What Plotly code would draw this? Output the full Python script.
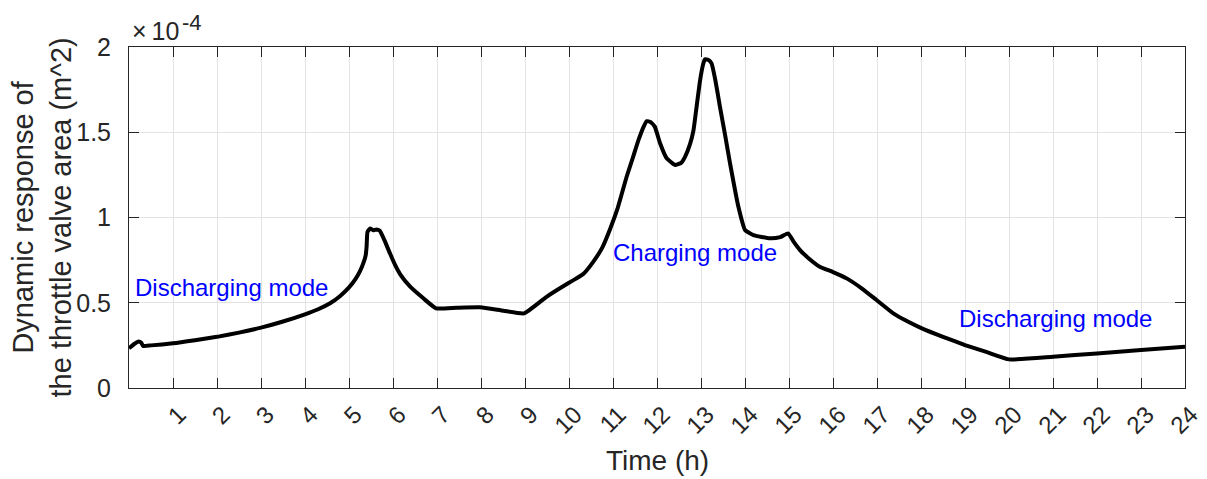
import plotly.graph_objects as go

# Time of day (h) and throttle valve area in units of 1e-4 m^2
hours = [0.00, 0.12, 0.22, 0.28, 0.32, 0.50, 1.00, 1.50, 2.00, 2.50, 3.00, 3.50,
         4.00, 4.30, 4.57, 4.80, 5.00, 5.15, 5.25, 5.33, 5.38, 5.40, 5.42, 5.48,
         5.55, 5.62, 5.70, 5.80, 5.93, 6.05, 6.16, 6.39, 6.69, 6.98, 7.45, 7.98,
         8.51, 8.98, 9.49, 9.98, 10.15, 10.33, 10.55, 10.75, 10.93, 11.10, 11.31,
         11.45, 11.58, 11.70, 11.77, 11.85, 11.95, 12.07, 12.22, 12.41, 12.55,
         12.64, 12.75, 12.83, 12.90, 12.98, 13.05, 13.09, 13.16, 13.24, 13.33,
         13.43, 13.55, 13.66, 13.85, 14.00, 14.19, 14.57, 14.80, 14.98, 15.10,
         15.25, 15.45, 15.70, 16.00, 16.31, 16.65, 16.99, 17.37, 17.70, 18.02,
         18.50, 19.00, 19.50, 20.00, 21.00, 22.00, 23.00, 24.00]
area_e4 = [0.233, 0.258, 0.272, 0.265, 0.247, 0.250, 0.262, 0.280, 0.300, 0.325,
           0.354, 0.390, 0.432, 0.462, 0.497, 0.540, 0.590, 0.640, 0.685, 0.735,
           0.780, 0.830, 0.915, 0.936, 0.925, 0.930, 0.922, 0.870, 0.790, 0.720,
           0.668, 0.594, 0.526, 0.467, 0.471, 0.473, 0.453, 0.438, 0.535, 0.614,
           0.640, 0.670, 0.740, 0.820, 0.930, 1.050, 1.239, 1.350, 1.455, 1.535,
           1.565, 1.560, 1.533, 1.435, 1.347, 1.308, 1.320, 1.357, 1.430, 1.513,
           1.650, 1.806, 1.900, 1.928, 1.925, 1.904, 1.800, 1.650, 1.480, 1.318,
           1.063, 0.927, 0.897, 0.878, 0.885, 0.907, 0.860, 0.809, 0.760, 0.711,
           0.680, 0.643, 0.585, 0.516, 0.438, 0.390, 0.350, 0.300, 0.252, 0.210,
           0.168, 0.184, 0.203, 0.223, 0.242]

hour_ticks = list(range(1, 25))
hour_labels = [str(h) for h in hour_ticks]
area_ticks = [0, 0.5, 1, 1.5, 2]
area_labels = ["0", "0.5", "1", "1.5", "2"]

# Operating-mode labels: (hour, area, text)
mode_labels = [
    (0.09, 0.587, "Discharging mode"),
    (10.95, 0.792, "Charging mode"),
    (18.82, 0.410, "Discharging mode"),
]

FONT = "Liberation Sans, Arial, Helvetica, sans-serif"
AXIS_COLOR = "#262626"
GRID_COLOR = "#e3e3e3"

fig = go.Figure()
fig.add_trace(go.Scatter(
    x=hours, y=area_e4, mode="lines",
    line=dict(color="black", width=4, shape="spline", smoothing=0.4),
    showlegend=False, hoverinfo="skip",
))

for hx, ay, txt in mode_labels:
    fig.add_annotation(x=hx, y=ay, xref="x", yref="y", text=txt,
                       showarrow=False, xanchor="left", yanchor="middle",
                       font=dict(family=FONT, size=24, color="#0000ff"))

# Exponent marker above the value axis: base and raised power
fig.add_annotation(x=0.001, y=1.0455, xref="paper", yref="paper",
                   text="\u00d7\u200910", showarrow=False,
                   xanchor="left", yanchor="middle",
                   font=dict(family=FONT, size=25, color=AXIS_COLOR))
fig.add_annotation(x=0.0483, y=1.0705, xref="paper", yref="paper",
                   text="-4", showarrow=False,
                   xanchor="left", yanchor="middle",
                   font=dict(family=FONT, size=22, color=AXIS_COLOR))

# Axis titles
fig.add_annotation(x=-0.0824, y=0.5, xref="paper", yref="paper",
                   text="Dynamic response of<br>the throttle valve area (m^2)",
                   textangle=-90, showarrow=False, xanchor="center", yanchor="middle",
                   font=dict(family=FONT, size=29, color=AXIS_COLOR))
fig.add_annotation(x=0.5, y=-0.213, xref="paper", yref="paper",
                   text="Time (h)", showarrow=False, xanchor="center", yanchor="middle",
                   font=dict(family=FONT, size=28, color=AXIS_COLOR))

fig.update_xaxes(
    range=[0, 24], tickvals=hour_ticks, ticktext=hour_labels,
    tickangle=-45, ticks="inside", ticklen=10, tickwidth=1, tickcolor=AXIS_COLOR,
    ticklabelshift=6, ticklabelstandoff=2, ticklabeloverflow="allow",
    automargin=False,
    showline=True, linecolor=AXIS_COLOR, linewidth=1, mirror="ticks",
    showgrid=True, gridcolor=GRID_COLOR, gridwidth=1, zeroline=False,
    tickfont=dict(family=FONT, size=24, color=AXIS_COLOR),
)
fig.update_yaxes(
    range=[0, 2], tickvals=area_ticks, ticktext=area_labels,
    ticks="inside", ticklen=10, tickwidth=1, tickcolor=AXIS_COLOR,
    ticklabelstandoff=12, automargin=False,
    showline=True, linecolor=AXIS_COLOR, linewidth=1, mirror="ticks",
    showgrid=True, gridcolor=GRID_COLOR, gridwidth=1, zeroline=False,
    tickfont=dict(family=FONT, size=25, color=AXIS_COLOR),
)

fig.update_layout(
    width=1207, height=479,
    margin=dict(l=129, r=22, t=47, b=91),
    paper_bgcolor="white", plot_bgcolor="white",
)

fig.write_html("out.html")
